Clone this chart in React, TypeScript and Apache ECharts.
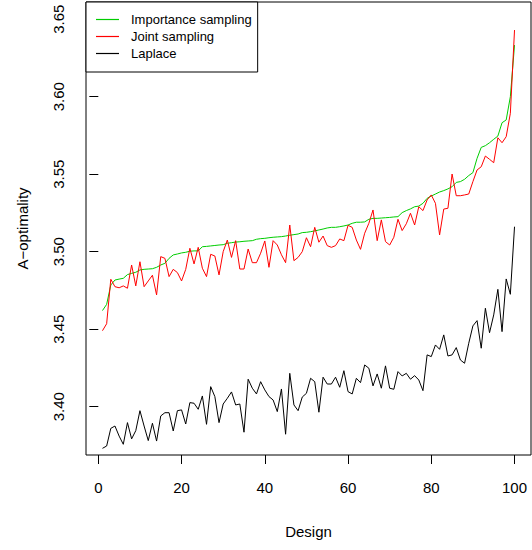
import React, { useEffect, useRef } from "react";
import * as echarts from "echarts";

// Design index (x axis)
const designs: number[] = Array.from({ length: 100 }, (_, k) => k + 1);

const xTicks = [0, 20, 40, 60, 80, 100];
const yTicks = [3.4, 3.45, 3.5, 3.55, 3.6, 3.65];

const importanceSampling = [
  3.462, 3.466, 3.4785, 3.4817, 3.4823, 3.4828, 3.4852, 3.486, 3.4867, 3.4882,
  3.4886, 3.4888, 3.489, 3.4899, 3.4914, 3.4925, 3.4957, 3.4979, 3.4985, 3.4992,
  3.4996, 3.5003, 3.5005, 3.5005, 3.5032, 3.5034, 3.5037, 3.504, 3.5043, 3.5045,
  3.5054, 3.5058, 3.5062, 3.5064, 3.5067, 3.5069, 3.5071, 3.508, 3.5084, 3.5086,
  3.509, 3.5093, 3.5095, 3.5097, 3.5101, 3.5106, 3.511, 3.5114, 3.5123, 3.5125,
  3.5129, 3.5134, 3.514, 3.5146, 3.5153, 3.5157, 3.5157, 3.5161, 3.5166, 3.5172,
  3.5183, 3.519, 3.519, 3.5192, 3.5209, 3.5215, 3.5215, 3.5217, 3.5219, 3.5221,
  3.5224, 3.5226, 3.5252, 3.5265, 3.5276, 3.529, 3.5294, 3.5312, 3.5344, 3.5359,
  3.5372, 3.5385, 3.5394, 3.5405, 3.5419, 3.5447, 3.5452, 3.5467, 3.5491, 3.551,
  3.5602, 3.5673, 3.5684, 3.5703, 3.5725, 3.5746, 3.5832, 3.585, 3.6, 3.6333,
];

const jointSampling = [
  3.449, 3.4535, 3.4822, 3.4774, 3.4767, 3.4779, 3.4764, 3.4914, 3.4779, 3.4935,
  3.4774, 3.4811, 3.4848, 3.4721, 3.4968, 3.4957, 3.4839, 3.4886, 3.4865, 3.4811,
  3.4886, 3.5022, 3.4921, 3.5028, 3.4893, 3.4839, 3.4983, 3.4972, 3.485, 3.5,
  3.5075, 3.4963, 3.5071, 3.4888, 3.4888, 3.5017, 3.4929, 3.4929, 3.499, 3.5069,
  3.4899, 3.5071, 3.5043, 3.498, 3.4929, 3.5172, 3.4942, 3.4963, 3.5, 3.509,
  3.5032, 3.5157, 3.5061, 3.5101, 3.5039, 3.5028, 3.5039, 3.5082, 3.5071, 3.517,
  3.5157, 3.5075, 3.5015, 3.5119, 3.5183, 3.5269, 3.5071, 3.5205, 3.5065, 3.5043,
  3.5093, 3.5209, 3.5136, 3.518, 3.5248, 3.5172, 3.529, 3.5265, 3.5334, 3.5366,
  3.5312, 3.5108, 3.5275, 3.528, 3.5501, 3.5361, 3.5361, 3.5366, 3.5372, 3.5452,
  3.5527, 3.5548, 3.5617, 3.5596, 3.5574, 3.5735, 3.5703, 3.5742, 3.5893, 3.643,
];

const laplace = [
  3.3731, 3.3746, 3.386, 3.3875, 3.381, 3.3757, 3.3897, 3.3792, 3.3845, 3.3974,
  3.3875, 3.3781, 3.3893, 3.3778, 3.394, 3.3961, 3.3961, 3.3843, 3.3974, 3.3979,
  3.3888, 3.4026, 3.4022, 3.3983, 3.4069, 3.3886, 3.4129, 3.4065, 3.3897, 3.4017,
  3.4054, 3.4095, 3.4011, 3.4017, 3.3835, 3.4177, 3.4119, 3.4082, 3.4161, 3.4108,
  3.4065, 3.4043, 3.3968, 3.4114, 3.3822, 3.4215, 3.4011, 3.3974, 3.4062, 3.4086,
  3.4183, 3.4161, 3.3964, 3.419, 3.4146, 3.4146, 3.419, 3.4125, 3.4232, 3.4097,
  3.4082, 3.4183, 3.4155, 3.4269, 3.4248, 3.4134, 3.4211, 3.4119, 3.4263, 3.4119,
  3.4112, 3.4226, 3.4198, 3.4215, 3.4177, 3.42, 3.4172, 3.4103, 3.4334, 3.4323,
  3.4398, 3.437, 3.4463, 3.4327, 3.4334, 3.4381, 3.4301, 3.428, 3.4409, 3.4521,
  3.4555, 3.4377, 3.4635, 3.4477, 3.4592, 3.4757, 3.4484, 3.4824, 3.4725, 3.5161,
];

const seriesNames = ["Importance sampling", "Joint sampling", "Laplace"];
const seriesColors = ["#00CD00", "#FF0000", "#000000"];
const seriesValues = [importanceSampling, jointSampling, laplace];

export default function App() {
  const ref = useRef<HTMLDivElement>(null);

  useEffect(() => {
    if (!ref.current) return;
    const chart = echarts.init(ref.current, null, { renderer: "svg" });
    const font = "'Liberation Sans', Arial, Helvetica, sans-serif";

    chart.setOption({
      animation: false,
      backgroundColor: "#ffffff",
      textStyle: { fontFamily: font },
      grid: {
        left: 86,
        right: 1,
        top: 2,
        bottom: 95,
        show: true,
        borderColor: "#000",
        borderWidth: 1,
        backgroundColor: "transparent",
      },
      xAxis: {
        type: "value",
        min: -2.96,
        max: 103.96,
        splitLine: { show: false },
        axisLine: { show: false },
        axisTick: {
          show: true,
          customValues: xTicks,
          length: 9,
          lineStyle: { color: "#000", width: 1 },
        },
        axisLabel: {
          customValues: xTicks,
          margin: 25,
          fontSize: 15,
          color: "#000",
          fontFamily: font,
        },
        name: "Design",
        nameLocation: "middle",
        nameGap: 69,
        nameTextStyle: { fontSize: 15, color: "#000", fontFamily: font },
      },
      yAxis: {
        type: "value",
        min: 3.3688,
        max: 3.6611,
        splitLine: { show: false },
        axisLine: { show: false },
        axisTick: {
          show: true,
          customValues: yTicks,
          length: 9,
          lineStyle: { color: "#000", width: 1 },
        },
        axisLabel: {
          customValues: yTicks,
          rotate: 90,
          margin: 20,
          fontSize: 15,
          color: "#000",
          fontFamily: font,
          formatter: (v: number) => v.toFixed(2),
        },
        name: "A\u2212optimality",
        nameLocation: "middle",
        nameGap: 56,
        nameTextStyle: { fontSize: 15, color: "#000", fontFamily: font },
      },
      legend: {
        orient: "vertical",
        left: 86,
        top: 2,
        padding: [11, 6, 12, 10],
        itemGap: 4,
        itemWidth: 23,
        itemHeight: 1.2,
        icon: "rect",
        borderColor: "#000",
        borderWidth: 1,
        borderRadius: 0,
        backgroundColor: "#fff",
        textStyle: {
          fontSize: 13,
          lineHeight: 13,
          color: "#000",
          fontFamily: font,
          padding: [0, 0, 0, 7],
        },
        data: seriesNames,
      },
      series: seriesNames.map((name, s) => ({
        name,
        type: "line",
        symbol: "none",
        showSymbol: false,
        silent: true,
        color: seriesColors[s],
        itemStyle: { color: seriesColors[s] },
        lineStyle: { color: seriesColors[s], width: 1 },
        data: seriesValues[s].map((v, k) => [designs[k], v]),
      })),
    });

    return () => chart.dispose();
  }, []);

  return (
    <div
      ref={ref}
      style={{ position: "fixed", left: 0, top: 0, width: 532, height: 550 }}
    />
  );
}
